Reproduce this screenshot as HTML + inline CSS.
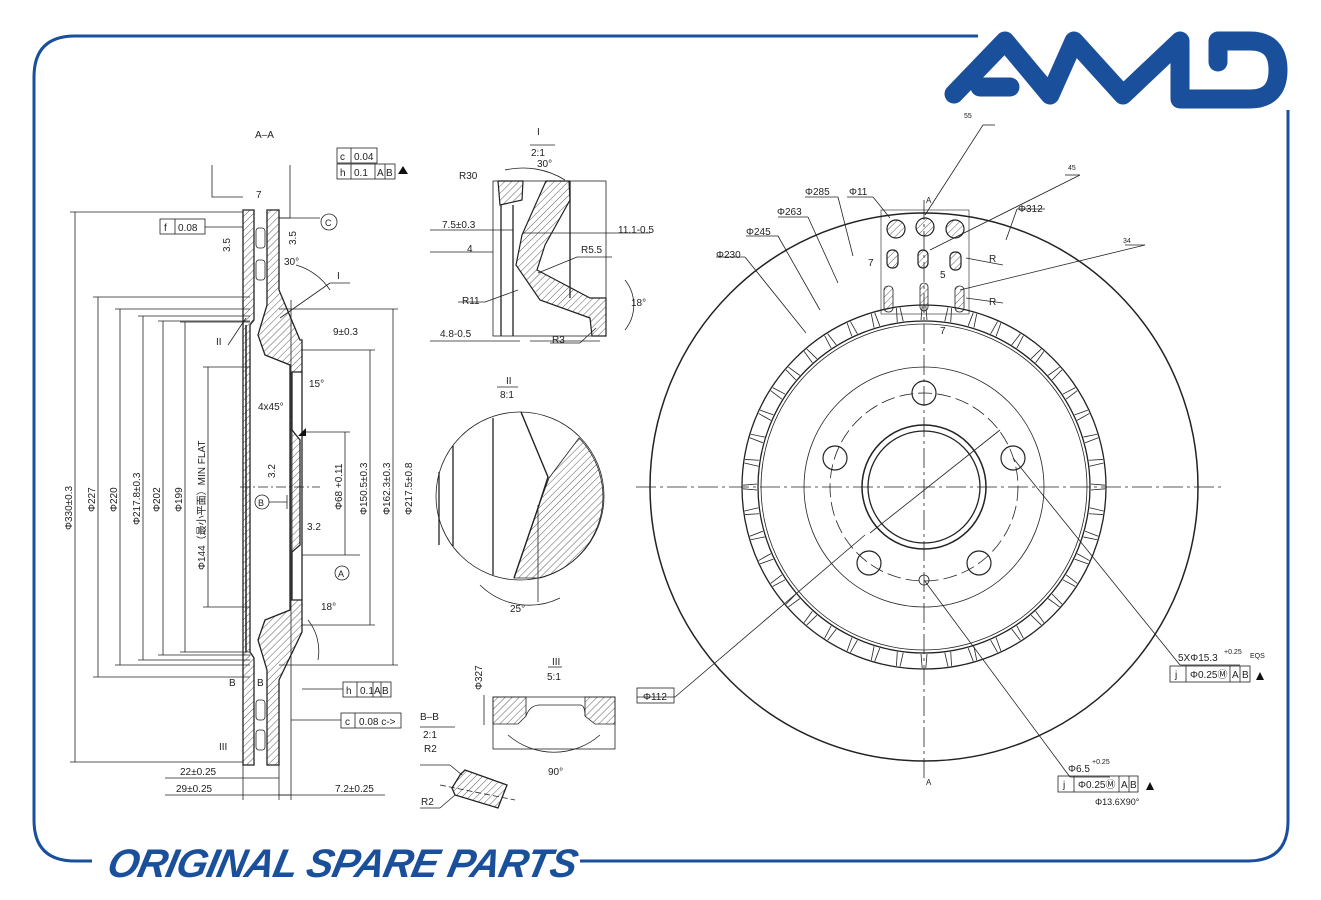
<!DOCTYPE html>
<html><head><meta charset="utf-8"><style>
html,body{margin:0;padding:0;background:#fff;}
svg{display:block;}
text{font-family:"Liberation Sans","Noto Sans CJK SC",sans-serif;fill:#222;}
</style></head><body>
<svg id="s" width="1321" height="900" viewBox="0 0 1321 900" xmlns="http://www.w3.org/2000/svg">
<defs>
<pattern id="h" width="5" height="5" patternUnits="userSpaceOnUse" patternTransform="rotate(45)">
<line x1="0" y1="0" x2="0" y2="5" stroke="#333" stroke-width="0.8"/></pattern>
</defs>
<!-- blue frame -->
<g fill="none" stroke="#1a4f9c" stroke-width="3">
<path d="M978 36 H75 Q34 36 34 77 V820 Q34 861 75 861 H92"/>
<path d="M580 861 H1248 Q1288 861 1288 821 V110"/>
</g>
<!-- AMD logo -->
<g fill="none" stroke="#1a4f9c" stroke-width="19" stroke-linecap="round" stroke-linejoin="round">
<path d="M954 94 L1005 41 L1050 95 L1074 41 L1123 95 L1180 41 V99 H1250 Q1278 99 1278 70 Q1278 41 1250 41 H1218 V62"/>
<path d="M980 87 H1010"/>
</g>
<text x="107" y="877" font-size="40" font-weight="bold" font-style="italic" fill="#1a4f9c" style="fill:#1a4f9c;letter-spacing:1px" transform="skewX(-12) translate(185,0)" textLength="470">ORIGINAL SPARE PARTS</text>

<g stroke="#222" fill="none" stroke-width="0.8">
<!-- ===== LEFT SECTION ===== -->
<line x1="240" y1="487" x2="320" y2="487" stroke-dasharray="10,3,2,3"/>
<path d="M243 210 H254 V320 L250 325 V652 L254 658 V765 H243 Z" fill="url(#h)" stroke-width="1.3"/>
<path d="M267 210 H279 V290 L300 340 H302 V372 H292 V430 L300 440 V545 L292 552 V600 H302 V632 L279 680 V765 H267 V670 L258 640 L265 620 L290 610 V365 L265 355 L258 335 L267 305 Z" fill="url(#h)" stroke-width="1.3"/>
<rect x="256" y="228" width="9" height="20" rx="3"/><rect x="256" y="260" width="9" height="20" rx="3"/>
<rect x="256" y="700" width="9" height="20" rx="3"/><rect x="256" y="730" width="9" height="20" rx="3"/>
<line x1="246" y1="325" x2="246" y2="652" stroke-width="1.5"/><line x1="250" y1="325" x2="250" y2="652"/>
<line x1="292" y1="372" x2="292" y2="600"/>
<line x1="302" y1="372" x2="302" y2="600" stroke-width="1.3"/>
<line x1="75" y1="212" x2="75" y2="762"/><line x1="98" y1="297" x2="98" y2="677"/>
<line x1="120" y1="309" x2="120" y2="665"/><line x1="143" y1="316" x2="143" y2="660"/>
<line x1="163" y1="321" x2="163" y2="655"/><line x1="185" y1="322" x2="185" y2="652"/>
<line x1="208" y1="367" x2="208" y2="607"/>
<line x1="70" y1="212" x2="243" y2="212"/><line x1="70" y1="762" x2="243" y2="762"/>
<line x1="93" y1="297" x2="250" y2="297"/><line x1="93" y1="677" x2="250" y2="677"/>
<line x1="115" y1="309" x2="250" y2="309"/><line x1="115" y1="665" x2="250" y2="665"/>
<line x1="138" y1="316" x2="250" y2="316"/><line x1="138" y1="660" x2="250" y2="660"/>
<line x1="158" y1="321" x2="250" y2="321"/><line x1="158" y1="655" x2="250" y2="655"/>
<line x1="180" y1="322" x2="250" y2="322"/><line x1="180" y1="652" x2="250" y2="652"/>
<line x1="203" y1="367" x2="250" y2="367"/><line x1="203" y1="607" x2="250" y2="607"/>
<line x1="345" y1="432" x2="345" y2="555"/><line x1="370" y1="350" x2="370" y2="625"/>
<line x1="393" y1="309" x2="393" y2="665"/>
<line x1="302" y1="432" x2="350" y2="432"/><line x1="302" y1="555" x2="360" y2="555"/>
<line x1="302" y1="350" x2="375" y2="350"/><line x1="302" y1="625" x2="375" y2="625"/>
<line x1="279" y1="309" x2="398" y2="309"/><line x1="279" y1="665" x2="398" y2="665"/>
<line x1="291" y1="300" x2="291" y2="800"/><line x1="279" y1="765" x2="279" y2="800"/>
<line x1="243" y1="765" x2="243" y2="800"/>
<line x1="165" y1="778" x2="279" y2="778"/><line x1="165" y1="795" x2="291" y2="795"/>
<line x1="279" y1="795" x2="385" y2="795"/>
<polyline points="212,165 212,197 243,197"/><polyline points="290,165 290,218 279,218"/>
<line x1="279" y1="218" x2="320" y2="218"/>
<circle cx="329" cy="222" r="8"/>
<rect x="337" y="148" width="40" height="15"/><line x1="351" y1="148" x2="351" y2="163"/>
<rect x="337" y="164" width="58" height="15"/><line x1="351" y1="164" x2="351" y2="179"/><line x1="375" y1="164" x2="375" y2="179"/><line x1="385" y1="164" x2="385" y2="179"/>
<rect x="160" y="219" width="45" height="15"/><line x1="175" y1="219" x2="175" y2="234"/>
<line x1="205" y1="227" x2="243" y2="227"/>
<rect x="343" y="682" width="48" height="15"/><line x1="357" y1="682" x2="357" y2="697"/><line x1="373" y1="682" x2="373" y2="697"/><line x1="381" y1="682" x2="381" y2="697"/>
<line x1="302" y1="689" x2="343" y2="689"/>
<rect x="341" y="713" width="60" height="15"/><line x1="355" y1="713" x2="355" y2="728"/>
<line x1="291" y1="720" x2="341" y2="720"/>
<circle cx="262" cy="502" r="7"/><line x1="269" y1="502" x2="287" y2="502"/><line x1="287" y1="495" x2="287" y2="509"/>
<circle cx="342" cy="573" r="7"/>
<line x1="280" y1="318" x2="330" y2="283" /><line x1="330" y1="283" x2="350" y2="283"/>
<line x1="228" y1="345" x2="246" y2="318"/>
<path d="M296 265 A60 60 0 0 1 330 290"/><path d="M308 620 A50 50 0 0 1 318 660"/>
<!-- ===== DETAIL I ===== -->
<rect x="493" y="181" width="113" height="155"/>
<path d="M498 181 H523 L522 200 L500 205 Z" fill="url(#h)" stroke-width="1.2"/>
<path d="M546 181 H569 L570 200 L545 245 L537 270 L590 298 H606 V336 L592 336 L590 318 L540 300 L516 265 L522 235 Z" fill="url(#h)" stroke-width="1.2"/>
<line x1="501" y1="205" x2="501" y2="336" stroke-width="1.3"/><line x1="513" y1="205" x2="513" y2="336" stroke-width="1.3"/>
<line x1="570" y1="181" x2="570" y2="298" stroke-width="1.3"/>
<line x1="430" y1="230" x2="513" y2="230"/><line x1="430" y1="252" x2="493" y2="252"/>
<line x1="523" y1="233" x2="650" y2="233"/>
<line x1="430" y1="341" x2="520" y2="341"/><line x1="530" y1="341" x2="600" y2="341"/>
<line x1="458" y1="302" x2="485" y2="302"/><line x1="485" y1="302" x2="518" y2="290"/>
<line x1="577" y1="257" x2="612" y2="257"/><line x1="577" y1="257" x2="538" y2="273"/>
<line x1="550" y1="343" x2="580" y2="343"/><line x1="580" y1="343" x2="596" y2="328"/>
<path d="M505 170 A80 80 0 0 1 565 180"/><path d="M625 280 A40 40 0 0 1 625 330"/>
<line x1="530" y1="145" x2="555" y2="145"/>
<!-- ===== DETAIL II ===== -->
<circle cx="520" cy="496" r="84"/>
<line x1="439" y1="472" x2="439" y2="545" stroke-width="1.3"/>
<line x1="453" y1="446" x2="453" y2="546" stroke-width="1.3"/>
<line x1="493" y1="418" x2="493" y2="575" stroke-width="1.3"/>
<path d="M579 438 L549 478 L539 505 L514 578 L540 578 A84 84 0 0 0 579 438 Z" fill="url(#h)"/>
<polyline points="521,412 548,477 539,505 514,578" stroke-width="1.4"/>
<line x1="497" y1="387" x2="518" y2="387"/>
<path d="M480 585 A70 70 0 0 0 560 598"/><line x1="538" y1="505" x2="538" y2="602"/>
<!-- ===== DETAIL III ===== -->
<rect x="493" y="697" width="122" height="52"/>
<path d="M493 697 H526 V716 L518 724 H493 Z" fill="url(#h)"/>
<path d="M585 697 H615 V724 H595 L585 716 Z" fill="url(#h)"/>
<path d="M526 716 Q530 705 540 705 H580 Q585 705 585 716"/>
<line x1="484" y1="695" x2="484" y2="725"/>
<path d="M508 735 A70 70 0 0 0 600 735"/>
<line x1="548" y1="667" x2="562" y2="667"/>
<!-- B-B -->
<line x1="420" y1="727" x2="455" y2="727"/>
<path d="M460 775 L465 770 L507 785 L498 808 L455 795 L452 788 Z" fill="url(#h)" stroke-width="1.3"/>
<line x1="420" y1="765" x2="450" y2="765"/><line x1="450" y1="765" x2="462" y2="775"/>
<line x1="420" y1="808" x2="440" y2="808"/><line x1="440" y1="808" x2="455" y2="795"/>
<line x1="440" y1="785" x2="515" y2="800" stroke-dasharray="6,3"/>
<!-- ===== DISC ===== -->
<circle cx="924" cy="487" r="274" stroke-width="1.5"/>
<circle cx="924" cy="487" r="182" stroke-width="1.3"/>
<circle cx="924" cy="487" r="166" stroke-width="1.3"/>
<circle cx="924" cy="487" r="163"/>
<circle cx="924" cy="487" r="120"/>
<circle cx="924" cy="487" r="94" stroke-dasharray="14,5"/>
<circle cx="924" cy="487" r="62" stroke-width="1.5"/>
<circle cx="924" cy="487" r="56" stroke-width="1.3"/>
<circle cx="924" cy="393" r="12" stroke-width="1.2"/>
<circle cx="1013" cy="458" r="12" stroke-width="1.2"/>
<circle cx="979" cy="563" r="12" stroke-width="1.2"/>
<circle cx="869" cy="563" r="12" stroke-width="1.2"/>
<circle cx="835" cy="458" r="12" stroke-width="1.2"/>
<circle cx="924" cy="580" r="5"/>
<line x1="636" y1="487" x2="1225" y2="487" stroke-dasharray="20,4,3,4"/>
<line x1="924" y1="200" x2="924" y2="780" stroke-dasharray="20,4,3,4"/>
<g id="vents"></g>
<circle cx="896" cy="229" r="9" fill="url(#h)" stroke-width="1.2"/>
<circle cx="925" cy="227" r="9" fill="url(#h)" stroke-width="1.2"/>
<circle cx="955" cy="229" r="9" fill="url(#h)" stroke-width="1.2"/>
<rect x="887" y="250" width="11" height="18" rx="5" fill="url(#h)" stroke-width="1.2"/>
<rect x="918" y="250" width="10" height="18" rx="5" fill="url(#h)" stroke-width="1.2"/>
<rect x="950" y="252" width="11" height="18" rx="5" fill="url(#h)" stroke-width="1.2"/>
<rect x="884" y="286" width="9" height="26" rx="4" fill="url(#h)"/>
<rect x="920" y="283" width="8" height="28" rx="4" fill="url(#h)"/>
<rect x="955" y="286" width="9" height="26" rx="4" fill="url(#h)"/>
<rect x="881" y="210" width="88" height="104" stroke-width="0.6"/>
<line x1="805" y1="197" x2="838" y2="197"/><line x1="838" y1="197" x2="853" y2="256"/>
<line x1="847" y1="197" x2="873" y2="197"/><line x1="873" y1="197" x2="890" y2="218"/>
<line x1="778" y1="217" x2="808" y2="217"/><line x1="808" y1="217" x2="838" y2="283"/>
<line x1="746" y1="236" x2="778" y2="236"/><line x1="778" y1="236" x2="820" y2="310"/>
<line x1="716" y1="257" x2="745" y2="257"/><line x1="745" y1="257" x2="806" y2="333"/>
<line x1="1017" y1="209" x2="1045" y2="209"/><line x1="1017" y1="209" x2="1006" y2="240"/>
<line x1="925" y1="215" x2="983" y2="125"/><line x1="983" y1="125" x2="995" y2="125"/>
<line x1="930" y1="250" x2="1080" y2="175"/><line x1="1065" y1="175" x2="1080" y2="175"/>
<line x1="960" y1="290" x2="1145" y2="245"/><line x1="1125" y1="245" x2="1145" y2="245"/>
<line x1="966" y1="258" x2="1003" y2="265"/><line x1="966" y1="298" x2="1003" y2="303"/>
<line x1="1013" y1="458" x2="1180" y2="665"/><line x1="1180" y1="665" x2="1240" y2="665"/>
<line x1="924" y1="580" x2="1070" y2="777"/><line x1="1070" y1="777" x2="1110" y2="777"/>
<line x1="865" y1="535" x2="675" y2="697"/><line x1="637" y1="697" x2="675" y2="697"/>
<line x1="1000" y1="430" x2="870" y2="533"/>
<rect x="637" y="688" width="37" height="15"/>
<rect x="1170" y="666" width="80" height="16"/><line x1="1186" y1="666" x2="1186" y2="682"/><line x1="1230" y1="666" x2="1230" y2="682"/><line x1="1240" y1="666" x2="1240" y2="682"/>
<rect x="1058" y="776" width="80" height="16"/><line x1="1074" y1="776" x2="1074" y2="792"/><line x1="1119" y1="776" x2="1119" y2="792"/><line x1="1129" y1="776" x2="1129" y2="792"/>
</g>
<g fill="#111">
<polygon points="398,174 403,166 408,174"/>
<polygon points="298,436 306,428 306,436"/>
<polygon points="1256,680 1260,672 1264,680"/>
<polygon points="1146,790 1150,782 1154,790"/>
</g>
<g font-size="10">
<text x="255" y="138">A–A</text>
<text x="340" y="160">c</text><text x="354" y="160">0.04</text>
<text x="340" y="176">h</text><text x="354" y="176">0.1</text><text x="377" y="176">A</text><text x="386" y="176">B</text>
<text x="256" y="198">7</text><text x="325" y="226" font-size="9">C</text>
<text x="164" y="231">f</text><text x="178" y="231">0.08</text>
<text x="230" y="252" transform="rotate(-90 230 252)">3.5</text>
<text x="296" y="245" transform="rotate(-90 296 245)">3.5</text>
<text x="284" y="265">30°</text>
<text x="337" y="279">I</text><text x="216" y="345">II</text>
<text x="333" y="335">9±0.3</text><text x="309" y="387">15°</text>
<text x="258" y="410">4x45°</text>
<text x="275" y="478" transform="rotate(-90 275 478)">3.2</text>
<text x="258" y="506" font-size="9">B</text><text x="338" y="577" font-size="9">A</text>
<text x="307" y="530">3.2</text><text x="321" y="610">18°</text>
<text x="229" y="686">B</text><text x="257" y="686">B</text>
<text x="219" y="750">III</text>
<text x="346" y="694">h</text><text x="360" y="694">0.1</text><text x="374" y="694">A</text><text x="382" y="694">B</text>
<text x="345" y="725">c</text><text x="359" y="725">0.08 c-&gt;</text>
<text x="180" y="775">22±0.25</text><text x="176" y="792">29±0.25</text><text x="335" y="792">7.2±0.25</text>
<text x="72" y="530" transform="rotate(-90 72 530)">Φ330±0.3</text>
<text x="95" y="512" transform="rotate(-90 95 512)">Φ227</text>
<text x="117" y="512" transform="rotate(-90 117 512)">Φ220</text>
<text x="140" y="525" transform="rotate(-90 140 525)">Φ217.8±0.3</text>
<text x="160" y="512" transform="rotate(-90 160 512)">Φ202</text>
<text x="182" y="512" transform="rotate(-90 182 512)">Φ199</text>
<text x="205" y="570" transform="rotate(-90 205 570)">Φ144（最小平面）MIN FLAT</text>
<text x="342" y="510" transform="rotate(-90 342 510)">Φ68 +0.11</text>
<text x="367" y="515" transform="rotate(-90 367 515)">Φ150.5±0.3</text>
<text x="390" y="515" transform="rotate(-90 390 515)">Φ162.3±0.3</text>
<text x="412" y="515" transform="rotate(-90 412 515)">Φ217.5±0.8</text>
<text x="537" y="135">I</text><text x="531" y="156">2:1</text>
<text x="537" y="167">30°</text><text x="459" y="179">R30</text>
<text x="442" y="228">7.5±0.3</text><text x="467" y="252">4</text>
<text x="618" y="233">11.1-0.5</text><text x="581" y="253">R5.5</text>
<text x="631" y="306">18°</text><text x="462" y="304">R11</text>
<text x="440" y="337">4.8-0.5</text><text x="552" y="343">R3</text>
<text x="506" y="384">II</text><text x="500" y="398">8:1</text>
<text x="510" y="612">25°</text>
<text x="552" y="665">III</text><text x="547" y="680">5:1</text>
<text x="482" y="690" transform="rotate(-90 482 690)">Φ327</text>
<text x="548" y="775">90°</text>
<text x="420" y="720">B–B</text><text x="423" y="738">2:1</text>
<text x="424" y="752">R2</text><text x="421" y="805">R2</text>
<text x="805" y="195">Φ285</text><text x="849" y="195">Φ11</text>
<text x="777" y="215">Φ263</text><text x="746" y="235">Φ245</text><text x="716" y="258">Φ230</text>
<text x="1018" y="212">Φ312</text>
<text x="926" y="203" font-size="8">A</text><text x="926" y="785" font-size="8">A</text>
<text x="868" y="266">7</text><text x="940" y="278">5</text>
<text x="940" y="334">7</text>
<text x="989" y="262">R</text><text x="989" y="305">R</text>
<text x="964" y="118" font-size="7">55</text><text x="1068" y="170" font-size="7">45</text><text x="1123" y="243" font-size="7">34</text>
<text x="643" y="700">Φ112</text>
<text x="1178" y="661">5XΦ15.3</text><text x="1224" y="654" font-size="7">+0.25</text><text x="1250" y="658" font-size="7">EQS</text>
<text x="1175" y="678">j</text><text x="1190" y="678">Φ0.25Ⓜ</text><text x="1232" y="678">A</text><text x="1242" y="678">B</text>
<text x="1068" y="772">Φ6.5</text><text x="1092" y="764" font-size="7">+0.25</text>
<text x="1063" y="788">j</text><text x="1078" y="788">Φ0.25Ⓜ</text><text x="1121" y="788">A</text><text x="1130" y="788">B</text>
<text x="1095" y="805" font-size="9">Φ13.6X90°</text>
</g>
</svg>
<script>
(function(){var g=document.getElementById('vents'),cx=924,cy=487,h='';
for(var i=0;i<44;i++){var a=i*2*Math.PI/44;var c=Math.cos(a),s=Math.sin(a);
for(var d=-1;d<=1;d+=2){var px=-s*d*3,py=c*d*3;
h+='<line x1="'+(cx+c*167+px)+'" y1="'+(cy+s*167+py)+'" x2="'+(cx+c*181+px*0.6)+'" y2="'+(cy+s*181+py*0.6)+'"/>';}}
g.innerHTML=h;})();
</script>
</body></html>
